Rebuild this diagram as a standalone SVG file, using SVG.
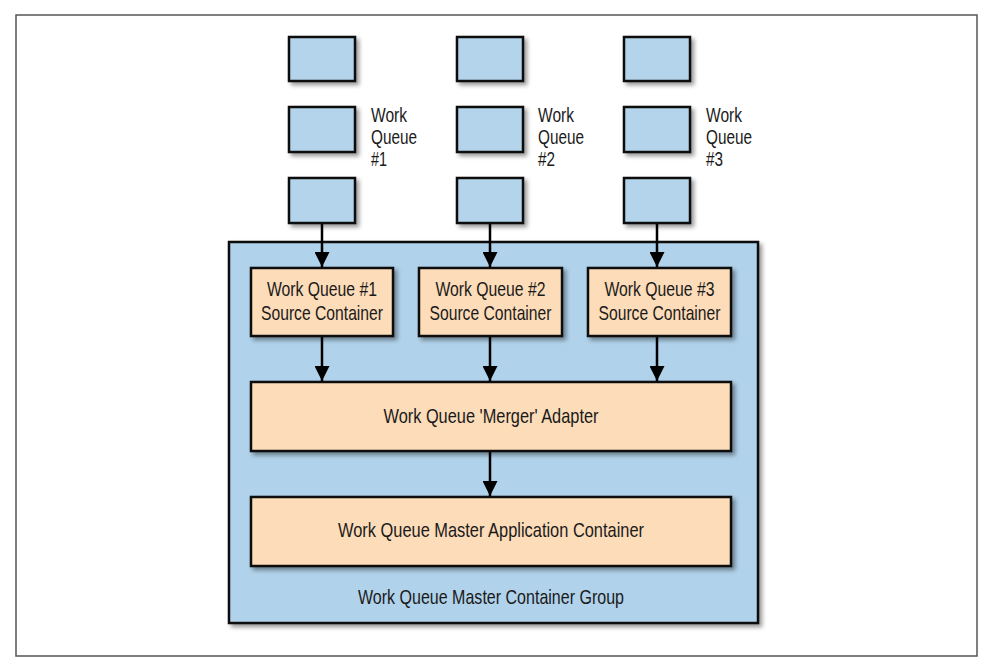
<svg xmlns="http://www.w3.org/2000/svg" width="987" height="667" viewBox="0 0 987 667">
<defs>
<filter id="sh" x="-10%" y="-10%" width="130%" height="140%">
<feDropShadow dx="3" dy="3" stdDeviation="2.2" flood-color="#000" flood-opacity="0.4"/>
</filter>
<marker id="ah" markerUnits="userSpaceOnUse" markerWidth="15" markerHeight="15" viewBox="0 0 15 15" refX="15" refY="7.5" orient="auto">
<path d="M0,0 L15,7.5 L0,15 Z" fill="#000"/>
</marker>
<style>
.q{fill:#b3d4ea;stroke:#111;stroke-width:2.5;filter:url(#sh)}
.c{fill:#fddcb9;stroke:#111;stroke-width:2.5;filter:url(#sh)}
.g{fill:#b0d2ea;stroke:#111;stroke-width:2.5;filter:url(#sh)}
.t{font-family:"Liberation Sans",Arial,sans-serif;font-size:21px;fill:#1a1a1a}
.m{text-anchor:middle}
.e{stroke:#000;stroke-width:2.5;fill:none;marker-end:url(#ah)}
</style>
</defs>
<rect x="16" y="15" width="961" height="641" fill="#fff" stroke="#555" stroke-width="1.5"/>

<g id="queue1">
<rect class="q" x="289" y="37" width="66" height="44"/>
<rect class="q" x="289" y="107" width="66" height="45"/>
<rect class="q" x="289" y="178" width="66" height="45"/>
<text class="t" x="371" y="122" textLength="36" lengthAdjust="spacingAndGlyphs">Work</text>
<text class="t" x="371" y="144" textLength="46" lengthAdjust="spacingAndGlyphs">Queue</text>
<text class="t" x="371" y="166" textLength="16" lengthAdjust="spacingAndGlyphs">#1</text>
</g>
<g id="queue2">
<rect class="q" x="457" y="37" width="66" height="44"/>
<rect class="q" x="457" y="107" width="66" height="45"/>
<rect class="q" x="457" y="178" width="66" height="45"/>
<text class="t" x="538" y="122" textLength="36" lengthAdjust="spacingAndGlyphs">Work</text>
<text class="t" x="538" y="144" textLength="46" lengthAdjust="spacingAndGlyphs">Queue</text>
<text class="t" x="538" y="166" textLength="17" lengthAdjust="spacingAndGlyphs">#2</text>
</g>
<g id="queue3">
<rect class="q" x="624" y="37" width="66" height="44"/>
<rect class="q" x="624" y="107" width="66" height="45"/>
<rect class="q" x="624" y="178" width="66" height="45"/>
<text class="t" x="706" y="122" textLength="36" lengthAdjust="spacingAndGlyphs">Work</text>
<text class="t" x="706" y="144" textLength="46" lengthAdjust="spacingAndGlyphs">Queue</text>
<text class="t" x="706" y="166" textLength="17" lengthAdjust="spacingAndGlyphs">#3</text>
</g>

<g id="group">
<rect class="g" x="229" y="242" width="529" height="381"/>
<text class="t m" x="491" y="604" textLength="266" lengthAdjust="spacingAndGlyphs">Work Queue Master Container Group</text>
</g>

<g id="source1">
<rect class="c" x="251" y="268" width="142" height="68"/>
<text class="t m" x="322" y="296" textLength="110" lengthAdjust="spacingAndGlyphs">Work Queue #1</text>
<text class="t m" x="322" y="320" textLength="122" lengthAdjust="spacingAndGlyphs">Source Container</text>
</g>
<g id="source2">
<rect class="c" x="419" y="268" width="143" height="68"/>
<text class="t m" x="490.5" y="296" textLength="110" lengthAdjust="spacingAndGlyphs">Work Queue #2</text>
<text class="t m" x="490.5" y="320" textLength="122" lengthAdjust="spacingAndGlyphs">Source Container</text>
</g>
<g id="source3">
<rect class="c" x="588" y="268" width="143" height="68"/>
<text class="t m" x="659.5" y="296" textLength="110" lengthAdjust="spacingAndGlyphs">Work Queue #3</text>
<text class="t m" x="659.5" y="320" textLength="122" lengthAdjust="spacingAndGlyphs">Source Container</text>
</g>

<g id="merger">
<rect class="c" x="251" y="382" width="480" height="69"/>
<text class="t m" x="491" y="423" textLength="215" lengthAdjust="spacingAndGlyphs">Work Queue 'Merger' Adapter</text>
</g>
<g id="master">
<rect class="c" x="251" y="497" width="480" height="69"/>
<text class="t m" x="491" y="537" textLength="306" lengthAdjust="spacingAndGlyphs">Work Queue Master Application Container</text>
</g>

<g id="connectors">
<line class="e" x1="322" y1="224" x2="322" y2="267"/>
<line class="e" x1="490" y1="224" x2="490" y2="267"/>
<line class="e" x1="657" y1="224" x2="657" y2="267"/>
<line class="e" x1="322" y1="337" x2="322" y2="381"/>
<line class="e" x1="490" y1="337" x2="490" y2="381"/>
<line class="e" x1="657" y1="337" x2="657" y2="381"/>
<line class="e" x1="490" y1="452" x2="490" y2="496"/>
</g>
</svg>
